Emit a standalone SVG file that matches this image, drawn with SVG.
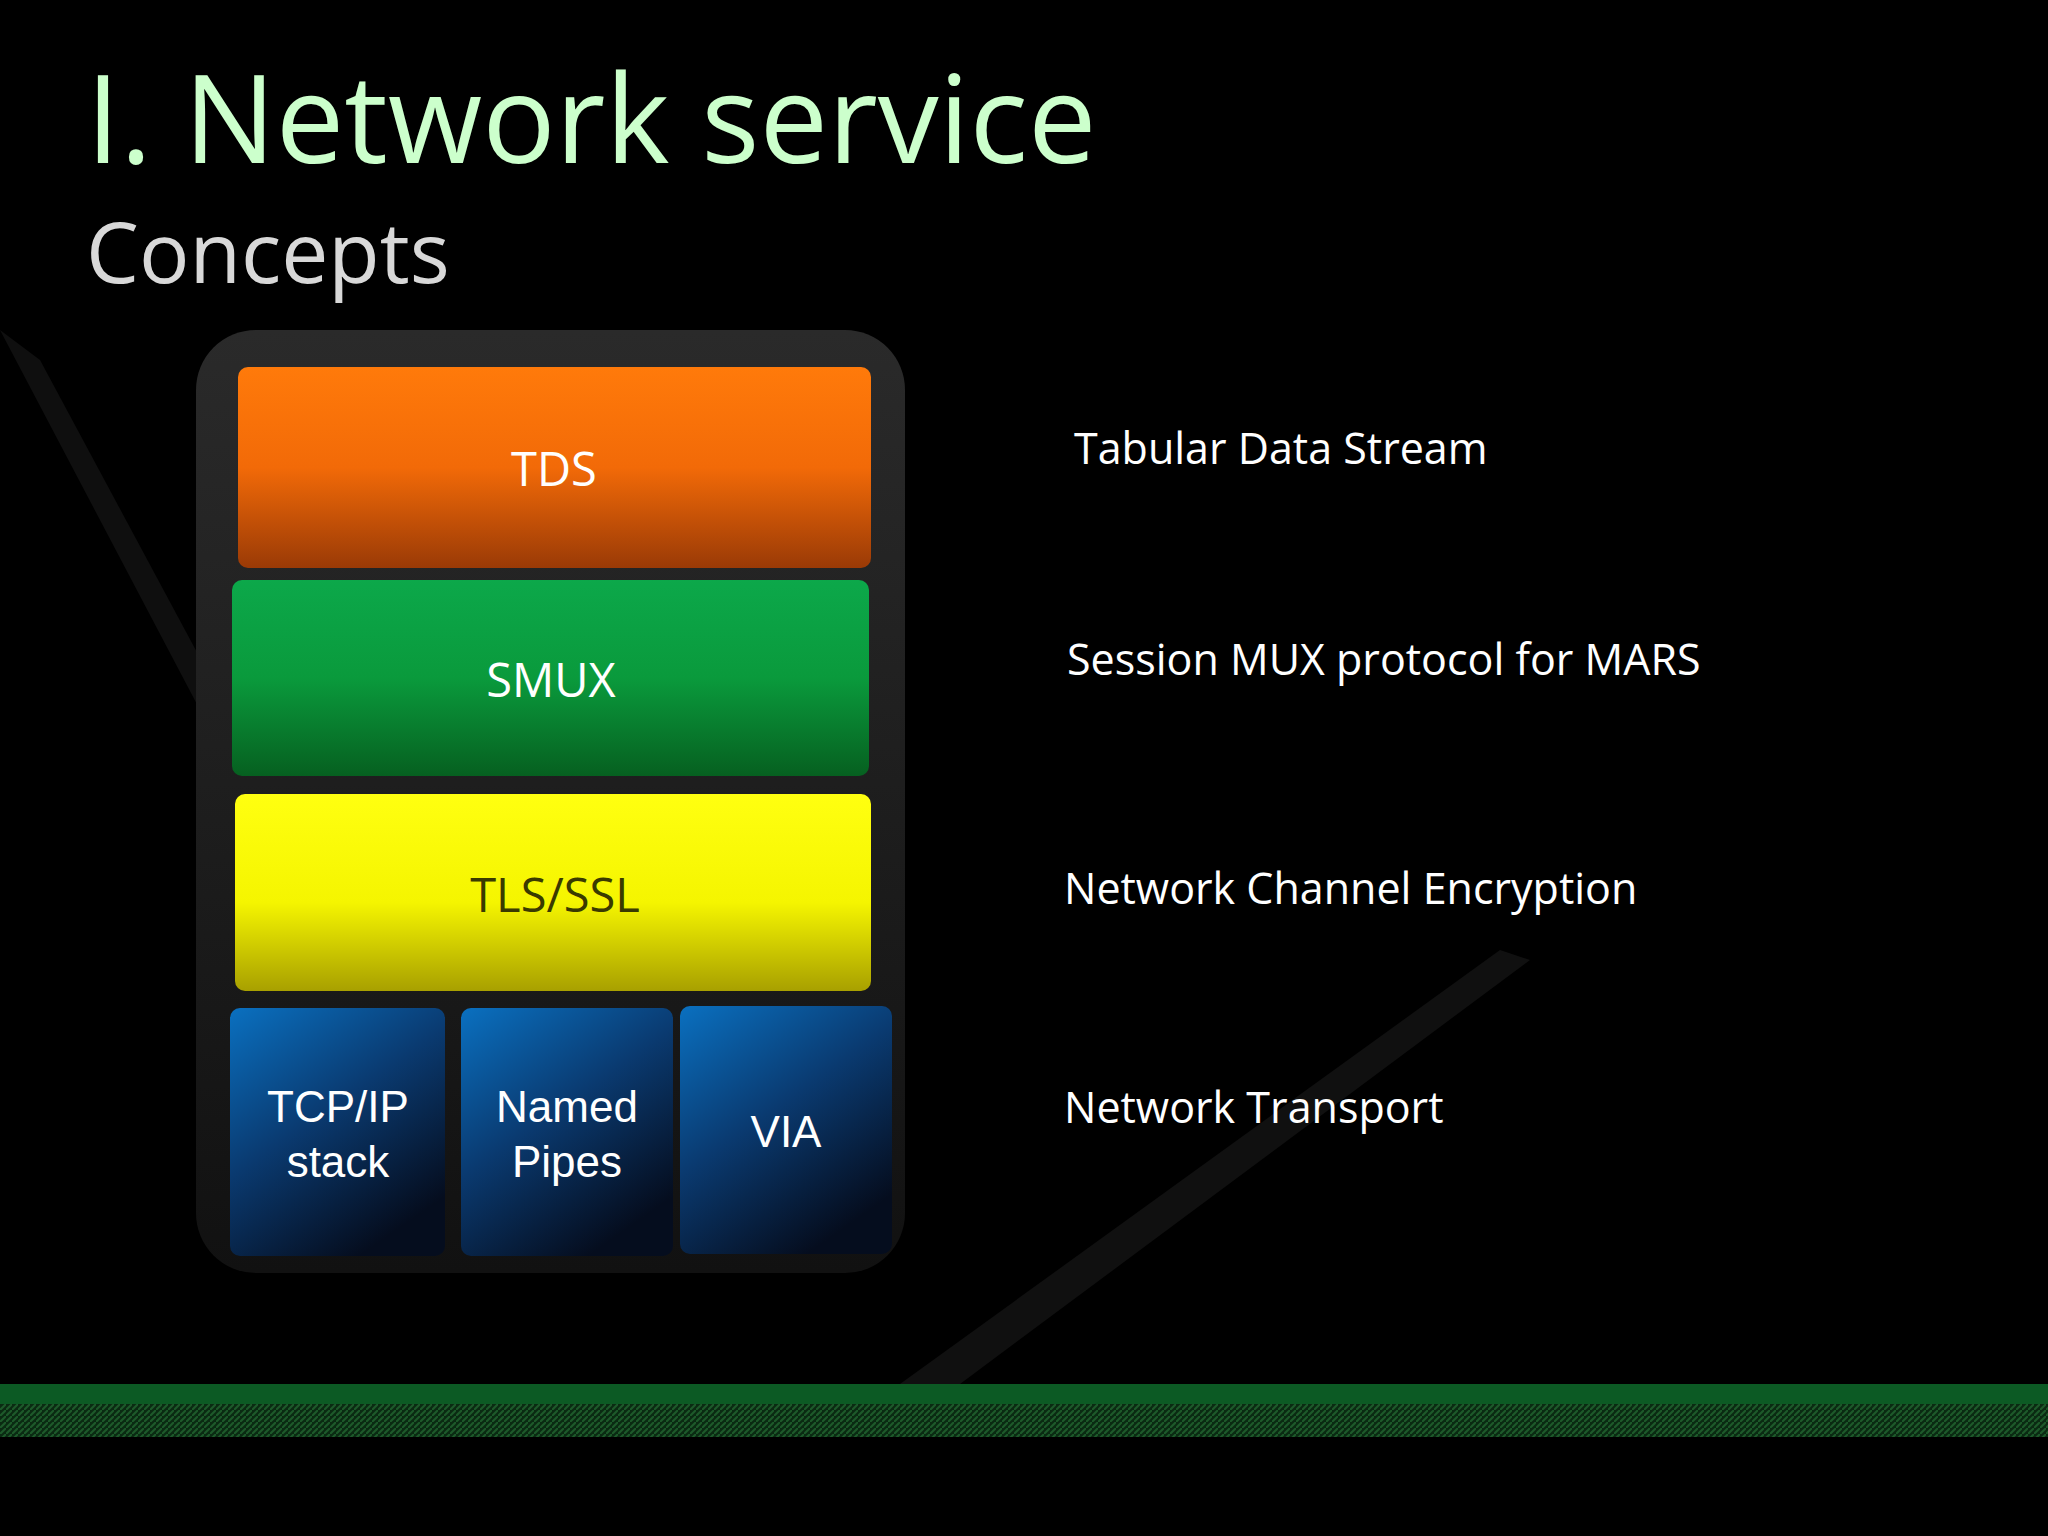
<svg xmlns="http://www.w3.org/2000/svg" width="2048" height="1536" viewBox="0 0 2048 1536">
<defs>
<linearGradient id="gO" x1="0" y1="0" x2="0" y2="1"><stop offset="0" stop-color="#ff7a0a"/><stop offset="0.5" stop-color="#f26a08"/><stop offset="1" stop-color="#9a3a06"/></linearGradient>
<linearGradient id="gG" x1="0" y1="0" x2="0" y2="1"><stop offset="0" stop-color="#0ca84a"/><stop offset="0.5" stop-color="#0a9a3c"/><stop offset="1" stop-color="#066020"/></linearGradient>
<linearGradient id="gY" x1="0" y1="0" x2="0" y2="1"><stop offset="0" stop-color="#ffff10"/><stop offset="0.55" stop-color="#f5f500"/><stop offset="1" stop-color="#a8a000"/></linearGradient>
<linearGradient id="gB" x1="0" y1="0" x2="0.6" y2="1"><stop offset="0" stop-color="#0a70c0"/><stop offset="0.5" stop-color="#0a3a70"/><stop offset="1" stop-color="#050d1e"/></linearGradient>
<linearGradient id="gC" x1="0" y1="0" x2="0" y2="1"><stop offset="0" stop-color="#2a2a2a"/><stop offset="1" stop-color="#111"/></linearGradient>
<pattern id="hatch" width="6" height="6" patternUnits="userSpaceOnUse"><rect width="6" height="6" fill="#0a2a12"/><path d="M0 6 L6 0" stroke="#1d5a2a" stroke-width="2"/></pattern>
<style>
.lbl{font-family:"Open Sans","Liberation Sans",sans-serif;font-size:47px;text-anchor:middle;fill:#fff}
.ar{font-family:"Liberation Sans",Arial,sans-serif;font-size:44px;text-anchor:middle;fill:#fff}
.desc{font-family:"Open Sans","Liberation Sans",sans-serif;font-size:43px;fill:#fff}
</style>
</defs>
<rect width="2048" height="1536" fill="#000"/>
<path d="M0 330 L40 360 L330 900 L300 900 Z" fill="#161616" opacity="0.7"/>
<path d="M900 1384 L1500 950 L1530 960 L960 1384 Z" fill="#141414" opacity="0.8"/>
<rect x="0" y="1384" width="2048" height="20" fill="#0c5a24"/>
<rect x="0" y="1404" width="2048" height="33" fill="url(#hatch)"/>
<text x="86" y="163" font-family="Open Sans,Liberation Sans,sans-serif" font-size="122" fill="#ccffcc">I. Network service</text>
<text x="86" y="283" font-family="Open Sans,Liberation Sans,sans-serif" font-size="84" fill="#d8d8d8">Concepts</text>
<g id="container"><rect x="196" y="330" width="709" height="943" rx="60" fill="url(#gC)"/></g>
<g id="tds"><rect x="238" y="367" width="633" height="201" rx="10" fill="url(#gO)"/><text class="lbl" x="554" y="486">TDS</text></g>
<g id="smux"><rect x="232" y="580" width="637" height="196" rx="10" fill="url(#gG)"/><text class="lbl" x="551" y="697">SMUX</text></g>
<g id="tls"><rect x="235" y="794" width="636" height="197" rx="10" fill="url(#gY)"/><text class="lbl" x="555" y="912" fill="#333" style="fill:#3a3a00">TLS/SSL</text></g>
<g id="tcp"><rect x="230" y="1008" width="215" height="248" rx="10" fill="url(#gB)"/><text class="ar" x="338" y="1122">TCP/IP</text><text class="ar" x="338" y="1177">stack</text></g>
<g id="pipes"><rect x="461" y="1008" width="212" height="248" rx="10" fill="url(#gB)"/><text class="ar" x="567" y="1122">Named</text><text class="ar" x="567" y="1177">Pipes</text></g>
<g id="via"><rect x="680" y="1006" width="212" height="248" rx="10" fill="url(#gB)"/><text class="ar" x="786" y="1147">VIA</text></g>
<g id="connectors"></g>
<text class="desc" x="1074" y="464">Tabular Data Stream</text>
<text class="desc" x="1067" y="675">Session MUX protocol for MARS</text>
<text class="desc" x="1064" y="904">Network Channel Encryption</text>
<text class="desc" x="1064" y="1123">Network Transport</text>
</svg>
